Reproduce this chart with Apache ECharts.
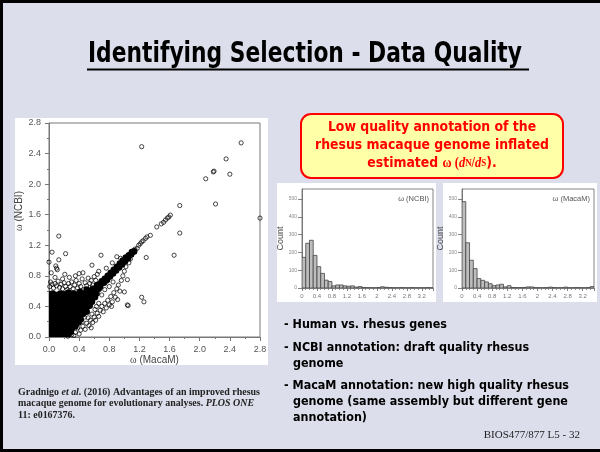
<!DOCTYPE html>
<html><head><meta charset="utf-8">
<script src="https://cdn.jsdelivr.net/npm/echarts@6/dist/echarts.min.js"></script>
<style>html,body{margin:0;padding:0;background:#dcdeeb}#c{width:600px;height:452px}</style>
</head><body><div id="c"></div>
<script>
// ---------------- data ----------------
const titleText = 'Identifying Selection - Data Quality';
const boxLines = ['Low quality annotation of the', 'rhesus macaque genome inflated'];
const bulletLines = ['- Human vs. rhesus genes', '- NCBI annotation: draft quality rhesus', 'genome',
  '- MacaM annotation: new high quality rhesus', 'genome (same assembly but different gene', 'annotation)'];
const footerText = 'BIOS477/877 L5 - 32';

// dense core of the omega scatter (MacaM x, NCBI y)
const corePoints = [
 [0.01,0.01],[0.05,0.02],[0.10,0.01],[0.15,0.03],[0.20,0.02],[0.26,0.04],
 [0.00,0.06],[0.04,0.07],[0.09,0.05],[0.14,0.07],[0.19,0.06],[0.24,0.08],[0.29,0.07],
 [0.02,0.11],[0.06,0.12],[0.11,0.10],[0.16,0.12],[0.21,0.11],[0.26,0.13],[0.31,0.12],[0.35,0.14],
 [0.00,0.16],[0.04,0.17],[0.09,0.16],[0.14,0.15],[0.19,0.17],[0.24,0.16],[0.29,0.18],[0.34,0.17],[0.39,0.19],
 [0.02,0.21],[0.07,0.22],[0.12,0.20],[0.17,0.22],[0.22,0.21],[0.27,0.23],[0.32,0.22],[0.37,0.24],[0.42,0.23],
 [0.00,0.26],[0.05,0.27],[0.10,0.25],[0.15,0.27],[0.20,0.26],[0.25,0.28],[0.30,0.27],[0.35,0.29],[0.40,0.28],[0.45,0.30],
 [0.02,0.31],[0.07,0.32],[0.12,0.30],[0.17,0.32],[0.22,0.31],[0.27,0.33],[0.32,0.32],[0.37,0.34],[0.42,0.33],[0.47,0.35],[0.50,0.33],
 [0.00,0.36],[0.05,0.37],[0.10,0.35],[0.15,0.37],[0.20,0.36],[0.25,0.38],[0.30,0.37],[0.35,0.39],[0.40,0.38],[0.45,0.40],[0.50,0.39],[0.54,0.41],
 [0.02,0.41],[0.07,0.42],[0.12,0.40],[0.17,0.42],[0.22,0.41],[0.27,0.43],[0.32,0.42],[0.37,0.44],[0.42,0.43],[0.47,0.45],[0.52,0.44],[0.57,0.46],
 [0.00,0.46],[0.05,0.47],[0.10,0.45],[0.15,0.47],[0.20,0.46],[0.25,0.48],[0.30,0.47],[0.36,0.49],[0.41,0.48],[0.46,0.50],[0.51,0.49],[0.56,0.51],[0.61,0.52],
 [0.02,0.51],[0.07,0.52],[0.12,0.50],[0.17,0.52],[0.22,0.51],[0.27,0.53],[0.32,0.52],[0.37,0.54],[0.43,0.53],[0.48,0.55],[0.53,0.54],[0.58,0.56],[0.63,0.57],
 [0.00,0.56],[0.05,0.57],[0.10,0.55],[0.15,0.57],[0.20,0.56],[0.26,0.58],[0.33,0.57],[0.41,0.59],[0.46,0.57],[0.51,0.58],[0.56,0.60],[0.61,0.61],[0.66,0.63],
 [0.50,0.62],[0.58,0.63],[0.63,0.65],[0.68,0.66],
 [0.64,0.68],[0.69,0.70],[0.70,0.73],[0.73,0.71],[0.74,0.76],[0.77,0.75],[0.78,0.80],[0.81,0.79],[0.82,0.84],[0.85,0.83],
 [0.86,0.88],[0.89,0.87],[0.90,0.92],[0.93,0.91],[0.94,0.96],[0.97,0.95],[0.98,1.00],[1.01,0.99],[1.02,1.04],[1.05,1.03],
 [1.06,1.07],[1.09,1.08],[1.10,1.11],[1.13,1.12]
];
// individually visible genes (hollow circles)
const scatterPoints = [
 [0.01,0.66],[0.02,0.72],[0.04,0.69],[0.06,0.64],[0.08,0.70],[0.10,0.67],[0.12,0.73],[0.14,0.65],[0.16,0.69],[0.18,0.63],
 [0.20,0.71],[0.22,0.66],[0.24,0.62],[0.26,0.70],[0.28,0.66],[0.30,0.72],[0.32,0.63],[0.34,0.68],[0.36,0.74],[0.38,0.64],
 [0.40,0.70],[0.42,0.66],[0.44,0.76],[0.46,0.62],[0.48,0.71],[0.50,0.67],[0.52,0.77],[0.54,0.70],[0.56,0.74],[0.58,0.68],
 [0.60,0.79],[0.62,0.74],[0.64,0.82],[0.35,0.80],[0.27,0.78],[0.18,0.76],[0.08,0.78],[0.45,0.84],[0.40,0.83],[0.03,0.84],[0.21,0.82],
 [0.57,0.94],[0.69,1.07],[0.90,1.05],[0.13,1.01],[0.09,0.93],[0.10,0.90],[0.11,0.88],[0.00,0.98],[0.04,1.11],[0.22,1.09],[0.13,1.32],
 [0.66,0.86],[0.76,0.90],[0.84,0.97],[0.95,1.03],
 [0.30,0.03],[0.35,0.06],[0.40,0.04],[0.42,0.09],[0.38,0.12],[0.45,0.14],[0.48,0.10],[0.50,0.18],[0.53,0.15],[0.55,0.22],
 [0.58,0.19],[0.52,0.25],[0.60,0.26],[0.62,0.22],[0.57,0.30],[0.64,0.31],[0.66,0.27],[0.68,0.35],[0.61,0.36],[0.70,0.40],
 [0.72,0.33],[0.74,0.44],[0.76,0.38],[0.66,0.44],[0.78,0.48],[0.80,0.42],[0.82,0.53],[0.84,0.46],[0.86,0.58],[0.88,0.52],
 [0.90,0.63],[0.92,0.68],[0.94,0.60],[0.96,0.74],[0.98,0.80],[1.00,0.86],[1.02,0.92],[1.06,0.97],[1.08,1.02],
 [0.83,0.40],[0.91,0.49],[1.00,0.59],[1.04,0.75],[0.77,0.73],[1.04,0.42],[1.05,0.41],[1.23,0.52],[1.26,0.46],
 [0.63,0.40],[0.70,0.55],[0.74,0.62],[0.80,0.66],[0.85,0.72],[0.44,0.20],[0.47,0.26],[0.25,0.01],[0.33,0.02],[0.56,0.12],
 [1.14,1.15],[1.17,1.16],[1.19,1.20],[1.21,1.22],[1.23,1.245],[1.25,1.26],[1.28,1.29],[1.30,1.31],[1.345,1.33],
 [1.43,1.44],[1.49,1.48],[1.52,1.50],[1.545,1.53],[1.57,1.556],[1.59,1.57],[1.61,1.595],
 [1.29,1.04],[1.66,1.07],[1.735,1.36],[1.735,1.72],[2.08,2.07],[2.18,2.16],[2.19,2.17],[2.21,1.74],
 [2.35,2.33],[2.40,2.13],[2.55,2.54],[1.23,2.49],[2.80,1.556]
];

// histograms: counts per 0.1-wide bin starting at 0
const histBinWidth = 0.1;
const ncbiCounts  = [172,251,268,183,120,82,44,36,12,17,17,12,10,12,5,8,3,2,1,1,2,7,4,2,1,1,2,1,1,2,1,1,1,2,1];
const macamCounts = [485,254,156,109,53,43,34,24,13,17,21,6,13,3,2,2,3,6,6,2,1,1,2,5,2,1,1,5,1,1,2,1,1,2,8];
const histNames = ['ω (NCBI)', 'ω (MacaM)'];

// ---------------- layout helpers ----------------
const ctx = document.createElement('canvas').getContext('2d');
function w(font, text){ ctx.font = font; return ctx.measureText(text).width; }

const TITLE_FONT = '"Liberation Sans Narrow","DejaVu Sans Condensed","Liberation Sans",sans-serif';
const COMIC = '"DejaVu Sans",sans-serif';
const SERIF = '"Liberation Serif","DejaVu Serif",serif';
const SANS = '"Liberation Sans",Arial,sans-serif';

const titleScale = 434 / w('bold 28px ' + TITLE_FONT, titleText);
const boxScale = 234 / w('bold 14px ' + COMIC, boxLines[1]);
const bulletScale = 285 / w('bold 13px ' + COMIC, bulletLines[3]);
const citeScale = 242 / (w('bold 10.5px ' + SERIF, 'Gradnigo  (2016) Advantages of an improved rhesus') + w('italic bold 10.5px ' + SERIF, 'et al.'));

function hist(counts, gridIndex){
  return {
    type: 'custom', xAxisIndex: gridIndex, yAxisIndex: gridIndex,
    data: counts.map((c, i) => [i * histBinWidth, c]),
    renderItem: function(params, api){
      const x0 = api.value(0), c = api.value(1);
      const p0 = api.coord([x0, c]);
      const p1 = api.coord([x0 + histBinWidth, 0]);
      return { type: 'rect', shape: { x: p0[0], y: p0[1], width: p1[0] - p0[0], height: p1[1] - p0[1] },
        style: { fill: '#bdbdbd', stroke: '#444', lineWidth: 0.8 } };
    },
    clip: true, silent: true
  };
}

function histX(gi){
  return { gridIndex: gi, type: 'value', min: 0, max: 3.5, interval: 0.4,
    axisLine: { show: true, lineStyle: { color: '#666', width: 0.8 } },
    axisTick: { show: true, length: 3, lineStyle: { color: '#666', width: 0.8 } },
    minorTick: { show: true, splitNumber: 4, length: 2, lineStyle: { color: '#777', width: 0.8 } },
    splitLine: { show: false },
    axisLabel: { fontSize: 6, color: '#777', margin: 5, showMaxLabel: false, fontFamily: SANS },
  };
}
function histY(gi){
  return { gridIndex: gi, type: 'value', min: 0, max: 556, interval: 100,
    name: 'Count', nameLocation: 'middle', nameGap: 11,
    nameTextStyle: { fontSize: 9, color: '#444', fontFamily: SANS },
    axisLine: { show: true, lineStyle: { color: '#666', width: 0.8 } },
    axisTick: { show: true, length: 4, lineStyle: { color: '#666', width: 0.8 } },
    splitLine: { show: false },
    axisLabel: { fontSize: 5, color: '#888', margin: 5, showMaxLabel: false, fontFamily: SANS }
  };
}

const scatterAxisCommon = {
  type: 'value', min: 0, max: 2.8, interval: 0.4,
  axisLine: { show: true, lineStyle: { color: '#777', width: 1 } },
  axisTick: { show: true, length: 4, lineStyle: { color: '#777' } },
  minorTick: { show: true, splitNumber: 2, length: 2, lineStyle: { color: '#777' } },
  splitLine: { show: false },
  axisLabel: { fontSize: 9, color: '#555', fontFamily: SANS, formatter: v => v.toFixed(1) },
  nameLocation: 'middle'
};

const chart = echarts.init(document.getElementById('c'), null, { renderer: 'canvas' });
chart.setOption({
  backgroundColor: '#dcdeeb',
  animation: false,
  grid: [
    { left: 49, top: 123, width: 211, height: 214, show: true, borderColor: '#777', borderWidth: 1, backgroundColor: 'transparent' },
    { left: 302, top: 189, width: 131, height: 99, show: true, borderColor: '#666', borderWidth: 0.8 },
    { left: 462, top: 189, width: 132, height: 99, show: true, borderColor: '#666', borderWidth: 0.8 }
  ],
  xAxis: [
    Object.assign({}, scatterAxisCommon, { gridIndex: 0, name: '{o|ω} (MacaM)', nameGap: 18,
      nameTextStyle: { fontSize: 10, color: '#444', fontFamily: SANS, rich: { o: { fontFamily: SERIF, fontSize: 10, color: '#444' } } } }),
    histX(1), histX(2)
  ],
  yAxis: [
    Object.assign({}, scatterAxisCommon, { gridIndex: 0, name: '{o|ω} (NCBI)', nameGap: 23,
      axisLabel: Object.assign({}, scatterAxisCommon.axisLabel, { margin: 8 }),
      nameTextStyle: { fontSize: 10, color: '#444', fontFamily: SANS, padding: [0, 0, 0, 38], rich: { o: { fontFamily: SERIF, fontSize: 10, color: '#444' } } } }),
    histY(1), histY(2)
  ],
  series: [
    { type: 'custom', xAxisIndex: 0, yAxisIndex: 0, data: corePoints, silent: true, z: 3, clip: true,
      renderItem: function(params, api){
        const p = api.coord([api.value(0), api.value(1)]);
        return { type: 'circle', shape: { cx: p[0], cy: p[1], r: 3.3 }, style: { fill: '#000', stroke: null } };
      } },
    { type: 'scatter', xAxisIndex: 0, yAxisIndex: 0, data: scatterPoints, symbol: 'circle', symbolSize: 4.2,
      itemStyle: { color: 'rgba(0,0,0,0)', borderColor: '#000', borderWidth: 0.9 }, silent: true, z: 4, clip: false },
    hist(ncbiCounts, 1),
    hist(macamCounts, 2)
  ],
  graphic: [
    // slide frame
    { type: 'rect', z: -5, shape: { x: 0, y: 0, width: 3, height: 452 }, style: { fill: '#000' } },
    { type: 'rect', z: -5, shape: { x: 0, y: 0, width: 600, height: 3 }, style: { fill: '#000' } },
    { type: 'rect', z: -5, shape: { x: 0, y: 449, width: 600, height: 3 }, style: { fill: '#000' } },
    // white figure panels
    { type: 'rect', z: -5, shape: { x: 15, y: 118, width: 253, height: 247 }, style: { fill: '#fff' } },
    { type: 'rect', z: -5, shape: { x: 277, y: 183, width: 159, height: 119 }, style: { fill: '#fff' } },
    { type: 'rect', z: -5, shape: { x: 443, y: 183, width: 154, height: 119 }, style: { fill: '#fff' } },
    // title
    { type: 'text', z: 10, x: 88, y: 55, scaleX: titleScale,
      style: { text: titleText, x: 0, y: 0, align: 'left', verticalAlign: 'middle', fill: '#000',
        font: 'bold 28px ' + TITLE_FONT } },
    { type: 'line', z: 10, shape: { x1: 87, y1: 69.5, x2: 529, y2: 69.5 }, style: { stroke: '#000', lineWidth: 2 } },
    // red callout box
    { type: 'rect', z: 10, shape: { x: 301, y: 114, width: 262, height: 64, r: 10 },
      style: { fill: '#ffffa8', stroke: '#ff0000', lineWidth: 2 } },
    { type: 'text', z: 11, x: 432, y: 127, scaleX: boxScale,
      style: { text: boxLines[0], align: 'center', verticalAlign: 'middle', fill: '#ff0000', font: 'bold 14px ' + COMIC } },
    { type: 'text', z: 11, x: 432, y: 145, scaleX: boxScale,
      style: { text: boxLines[1], align: 'center', verticalAlign: 'middle', fill: '#ff0000', font: 'bold 14px ' + COMIC } },
    { type: 'text', z: 11, x: 432, y: 163, scaleX: boxScale,
      style: { text: '{a|estimated }{b|ω (}{c|d}{s|N}{b|/}{c|d}{s|S}{a|).}', align: 'center', verticalAlign: 'middle',
        fill: '#ff0000',
        rich: {
          a: { fontFamily: COMIC, fontWeight: 'bold', fontSize: 14, fill: '#ff0000', color: '#ff0000' },
          b: { fontFamily: SERIF, fontWeight: 'bold', fontSize: 14, fill: '#ff0000', color: '#ff0000' },
          c: { fontFamily: SERIF, fontWeight: 'bold', fontStyle: 'italic', fontSize: 14, fill: '#ff0000', color: '#ff0000' },
          s: { fontFamily: SERIF, fontWeight: 'bold', fontSize: 10, fill: '#ff0000', color: '#ff0000' }
        } } },
    // histogram in-panel labels
    { type: 'text', z: 10, x: 429, y: 199, style: { text: histNames[0], align: 'right', verticalAlign: 'middle', fill: '#555', font: '7.5px ' + SANS } },
    { type: 'text', z: 10, x: 590, y: 199, style: { text: histNames[1], align: 'right', verticalAlign: 'middle', fill: '#555', font: '7.5px ' + SANS } },
    // bullets
    { type: 'text', z: 10, x: 284, y: 325, scaleX: bulletScale, style: { text: bulletLines[0], verticalAlign: 'middle', fill: '#000', font: 'bold 13px ' + COMIC } },
    { type: 'text', z: 10, x: 284, y: 348, scaleX: bulletScale, style: { text: bulletLines[1], verticalAlign: 'middle', fill: '#000', font: 'bold 13px ' + COMIC } },
    { type: 'text', z: 10, x: 293, y: 364, scaleX: bulletScale, style: { text: bulletLines[2], verticalAlign: 'middle', fill: '#000', font: 'bold 13px ' + COMIC } },
    { type: 'text', z: 10, x: 284, y: 386, scaleX: bulletScale, style: { text: bulletLines[3], verticalAlign: 'middle', fill: '#000', font: 'bold 13px ' + COMIC } },
    { type: 'text', z: 10, x: 293, y: 402, scaleX: bulletScale, style: { text: bulletLines[4], verticalAlign: 'middle', fill: '#000', font: 'bold 13px ' + COMIC } },
    { type: 'text', z: 10, x: 293, y: 418, scaleX: bulletScale, style: { text: bulletLines[5], verticalAlign: 'middle', fill: '#000', font: 'bold 13px ' + COMIC } },
    // citation
    { type: 'text', z: 10, x: 18, y: 392, scaleX: citeScale,
      style: { text: '{b|Gradnigo }{i|et al.}{b| (2016) Advantages of an improved rhesus}', verticalAlign: 'middle',
        rich: { b: { fontFamily: SERIF, fontWeight: 'bold', fontSize: 10.5, fill: '#222', color: '#222' },
                i: { fontFamily: SERIF, fontWeight: 'bold', fontStyle: 'italic', fontSize: 10.5, fill: '#222', color: '#222' } } } },
    { type: 'text', z: 10, x: 18, y: 403.5, scaleX: citeScale,
      style: { text: '{b|macaque genome for evolutionary analyses. }{i|PLOS ONE}', verticalAlign: 'middle',
        rich: { b: { fontFamily: SERIF, fontWeight: 'bold', fontSize: 10.5, fill: '#222', color: '#222' },
                i: { fontFamily: SERIF, fontWeight: 'bold', fontStyle: 'italic', fontSize: 10.5, fill: '#222', color: '#222' } } } },
    { type: 'text', z: 10, x: 18, y: 415, scaleX: citeScale,
      style: { text: '11: e0167376.', verticalAlign: 'middle', fill: '#222', font: 'bold 10.5px ' + SERIF } },
    // footer
    { type: 'text', z: 10, x: 580, y: 435, style: { text: footerText, align: 'right', verticalAlign: 'middle', fill: '#222', font: '11px ' + SERIF } }
  ]
});
</script>
</body></html>
